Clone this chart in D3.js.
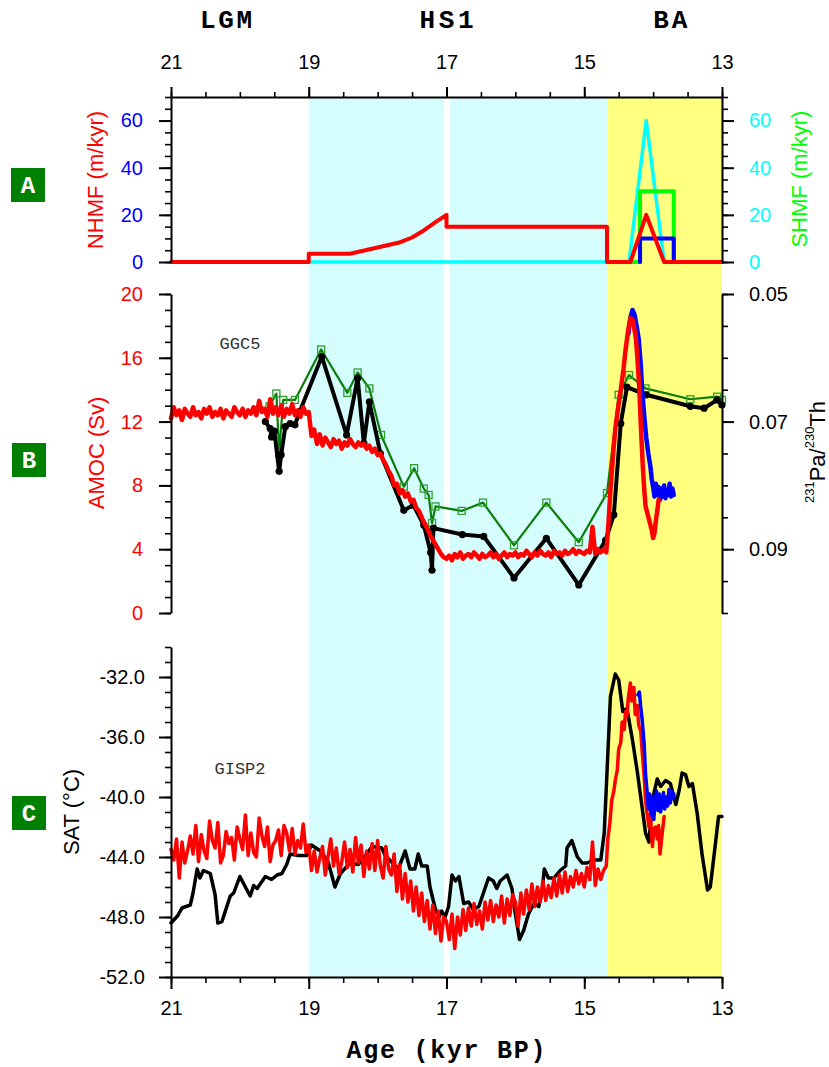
<!DOCTYPE html>
<html><head><meta charset="utf-8">
<script src="https://cdn.jsdelivr.net/npm/d3@7"></script>
<style>body{margin:0;background:#fff}svg{display:block}</style>
</head><body>
<svg id="c" width="829" height="1067"></svg>
<script>
// ---------------- DATA ----------------
const xTicks = [21, 19, 17, 15, 13];
const periodLabels = [["LGM", 20.2], ["HS1", 17.0], ["BA", 13.75]];
const bandsCyan = [[19.0, 17.04], [16.95, 14.66]];
const bandYellow = [14.66, 13.0];

// Panel A: meltwater fluxes (m/kyr)
const nhmfRed = [[21,0],[19,0],[19,3.5],[18.4,3.5],[17.67,8.4],[17.5,10.4],[17.33,13.4],[17.16,16.9],[17.0,20],[17.0,15],[14.67,15],[14.67,0],[14.33,0],[14.1,20],[13.84,0],[13,0]];
const shmfCyan = [[19,0],[14.35,0],[14.1,60],[13.84,0],[13,0]];
const shmfGreen = [[14.66,0],[14.19,0],[14.19,30],[13.7,30],[13.7,0],[13,0]];
const nhmfBlue = [[14.19,0],[14.19,10],[13.7,10],[13.7,0]];
const aTicks = [0, 20, 40, 60];

// Panel B: Pa/Th (GGC5) and AMOC (Sv)
const paThBlack = [[19.63,0.0700],[19.56,0.0711],[19.54,0.0724],[19.50,0.0715],[19.43,0.0778],[19.40,0.0752],[19.34,0.0708],[19.27,0.0703],[19.20,0.0705],[19.13,0.0684],[18.81,0.0598],[18.45,0.0721],[18.29,0.0632],[18.20,0.0734],[18.12,0.0669],[17.96,0.0750],[17.62,0.0839],[17.48,0.0831],[17.33,0.0862],[17.23,0.0905],[17.21,0.0933],[17.19,0.0867],[16.77,0.0877],[16.46,0.0880],[16.02,0.0945],[15.55,0.0883],[15.08,0.0956],[14.69,0.0886],[14.57,0.0846],[14.47,0.0703],[14.38,0.0646],[14.10,0.0658],[13.46,0.0676],[13.26,0.0679],[13.07,0.0666],[13.00,0.0674]];
const paThGreen = [[19.57,0.0676],[19.47,0.0656],[19.43,0.0750],[19.37,0.0666],[19.20,0.0666],[18.82,0.0587],[18.44,0.0655],[18.29,0.0623],[18.12,0.0648],[17.95,0.0721],[17.62,0.0802],[17.47,0.0773],[17.33,0.0805],[17.26,0.0815],[17.21,0.0859],[17.16,0.0833],[16.78,0.0840],[16.47,0.0827],[16.02,0.0894],[15.55,0.0827],[15.08,0.0889],[14.67,0.0812],[14.50,0.0658],[14.35,0.0627],[14.11,0.0648],[13.46,0.0665],[13.07,0.0661],[13.00,0.0666]];
// model AMOC sampled every 0.04 kyr from 21.0 kyr
const amocStart = 21.0, amocStep = 0.04;
const amocRed = [
12.2,12.9,12.4,12.7,12.1,12.8,12.5,12.3,12.9,12.4,
12.6,12.2,12.8,12.5,12.9,12.3,12.6,12.4,12.8,12.2,
12.7,12.5,12.3,12.9,12.6,12.4,12.8,12.3,12.7,12.5,
12.9,12.4,13.3,12.6,12.8,12.3,13.4,12.5,12.9,12.4,
13.0,12.3,12.8,12.5,13.1,12.4,12.7,12.3,12.9,12.5,
12.6,11.1,11.5,10.6,11.2,10.5,11.0,10.7,10.4,10.9,
10.6,10.8,10.3,10.7,10.5,10.9,10.6,10.4,10.7,10.5,
10.6,10.3,10.5,10.1,10.3,9.9,10.0,9.6,9.3,8.9,
8.6,8.0,8.1,7.5,7.7,7.3,7.5,7.0,7.1,6.6,
6.4,6.0,5.6,5.3,4.9,4.6,4.3,4.0,3.7,3.5,
3.4,3.6,3.3,3.7,3.5,3.8,3.4,3.6,3.7,3.5,
3.8,3.6,3.4,3.7,3.5,3.6,3.8,3.5,3.7,3.4,
3.6,3.8,3.5,3.7,3.6,
3.8,3.5,3.7,3.6,3.9,3.7,3.5,3.8,3.6,3.9,
3.7,3.6,3.8,3.5,3.9,3.7,3.8,3.6,3.9,3.7,
3.8,4.0,3.7,3.9,3.8,
3.7,3.9,3.8,5.4,3.7,4.0,3.8,4.0];
const amocRedBA = [[14.68,3.8],[14.65,5.5],[14.62,7.7],[14.58,10.0],[14.55,11.5],[14.51,12.8],[14.47,14.0],[14.43,15.3],[14.40,16.5],[14.36,17.8],[14.33,18.5],[14.30,18.4],[14.28,18.0],[14.25,17.2],[14.23,16.1],[14.20,14.0],[14.18,11.9],[14.15,9.2],[14.13,7.8],[14.11,6.7],[14.08,6.2],[14.05,5.7],[14.02,5.2],[14.00,4.7],[13.98,5.0],[13.96,5.8],[13.94,6.4],[13.92,7.1]];
const amocBlue = [[14.36,17.5],[14.33,18.5],[14.30,19.0],[14.27,18.7],[14.24,18.0],[14.21,17.2],[14.18,15.6],[14.16,14.0],[14.13,12.4],[14.10,11.0],[14.07,10.0],[14.04,9.2],[14.02,8.4],[14.00,7.9],[13.98,7.3],[13.96,8.1],[13.94,7.4],[13.92,7.9],[13.90,7.1],[13.88,7.8],[13.86,7.3],[13.84,8.0],[13.82,7.2],[13.80,7.7],[13.78,7.4],[13.76,8.1],[13.74,7.3],[13.72,7.8],[13.70,7.4]];
const bLeftTicks = [0, 4, 8, 12, 16, 20];
const bRightTicks = [0.05, 0.07, 0.09];

// Panel C: SAT (deg C)
const satBlack = [[21.0,-48.4],[20.9,-47.9],[20.84,-47.4],[20.78,-47.3],[20.72,-47.2],[20.68,-46.4],[20.62,-44.8],[20.58,-45.4],[20.53,-44.9],[20.43,-45.1],[20.36,-46.5],[20.32,-48.4],[20.26,-48.3],[20.14,-46.6],[20.09,-46.4],[20.0,-45.3],[19.92,-46.0],[19.85,-46.6],[19.8,-45.9],[19.75,-46.1],[19.63,-45.3],[19.54,-45.5],[19.46,-45.2],[19.39,-45.1],[19.32,-44.5],[19.27,-43.8],[19.15,-43.9],[19.03,-43.9],[18.96,-43.2],[18.83,-43.6],[18.72,-44.3],[18.62,-46.0],[18.54,-45.1],[18.4,-44.4],[18.28,-44.5],[18.16,-43.8],[18.08,-43.3],[17.94,-43.4],[17.89,-43.9],[17.7,-44.8],[17.6,-43.6],[17.53,-44.8],[17.46,-44.8],[17.41,-43.8],[17.36,-44.6],[17.28,-44.6],[17.24,-46.0],[17.16,-47.5],[17.11,-48.0],[17.07,-47.6],[17.02,-48.0],[16.97,-47.3],[16.92,-45.2],[16.87,-45.6],[16.82,-45.3],[16.75,-47.1],[16.68,-47.0],[16.61,-47.5],[16.53,-47.3],[16.39,-45.4],[16.32,-45.6],[16.27,-46.1],[16.22,-45.6],[16.12,-45.2],[16.05,-46.1],[16.0,-47.8],[15.94,-49.5],[15.88,-48.9],[15.81,-47.8],[15.73,-47.1],[15.66,-47.3],[15.61,-46.2],[15.58,-44.8],[15.52,-45.4],[15.44,-45.4],[15.35,-44.9],[15.27,-44.6],[15.25,-43.4],[15.18,-42.9],[15.1,-44.0],[15.03,-44.4],[14.96,-44.4],[14.86,-44.2],[14.76,-44.2],[14.71,-42.4],[14.67,-38.4],[14.62,-33.3],[14.55,-31.8],[14.5,-32.2],[14.44,-34.3],[14.38,-34.1],[14.3,-36.2],[14.23,-38.3],[14.18,-40.0],[14.11,-42.4],[14.06,-43.0],[14.01,-40.2],[13.94,-38.8],[13.89,-39.3],[13.82,-38.9],[13.75,-39.1],[13.67,-40.5],[13.62,-39.5],[13.58,-38.4],[13.53,-38.5],[13.48,-39.3],[13.43,-39.1],[13.36,-41.1],[13.29,-43.8],[13.21,-46.2],[13.17,-46.0],[13.09,-42.9],[13.05,-41.3],[13.0,-41.3]];
// model SAT sampled every 0.04 kyr from 21.0 kyr
const satStart = 21.0, satStep = 0.04;
const satRed = [
-43.5,-44.2,-42.8,-45.4,-43.0,-44.4,-43.6,-42.6,-43.8,-41.9,
-44.3,-42.5,-43.6,-44.1,-41.6,-42.9,-43.4,-41.7,-44.4,-43.9,
-42.3,-43.1,-42.7,-44.2,-42.0,-42.8,-43.5,-41.2,-43.9,-42.4,
-43.7,-44.0,-41.4,-42.6,-43.3,-42.0,-44.3,-43.2,-42.9,-42.2,
-43.9,-41.9,-42.4,-43.6,-42.1,-43.8,-42.9,-43.4,-41.8,-43.7,
-43.2,-44.9,-43.6,-45.0,-44.1,-43.3,-45.2,-44.0,-42.8,-44.6,
-43.4,-45.1,-44.3,-43.0,-44.7,-43.5,-45.0,-42.7,-44.4,-43.2,
-45.3,-43.6,-44.8,-43.1,-44.9,-42.9,-44.6,-45.4,-43.3,-44.8,
-45.2,-43.8,-46.3,-44.5,-46.8,-45.1,-47.0,-45.6,-47.6,-46.0,
-47.9,-46.4,-48.3,-46.9,-48.8,-47.2,-49.1,-47.6,-49.6,-48.0,
-48.3,-49.5,-47.8,-50.1,-48.0,-49.2,-47.5,-48.9,-47.4,-48.6,
-47.1,-48.5,-47.6,-48.8,-47.0,-48.2,-46.9,-48.3,-47.2,-48.0,
-46.6,-48.4,-46.8,-47.9,-46.5,
-47.0,-48.6,-46.4,-47.8,-46.2,-47.5,-45.8,-47.3,-46.0,-47.0,
-45.6,-46.9,-45.9,-46.7,-45.4,-46.6,-45.2,-46.4,-45.0,-46.3,
-45.3,-46.0,-44.9,-45.8,-45.1,
-46.0,-44.7,-45.5,-43.0,-45.9,-44.8,-45.5,-44.9];
const satRedBA = [[14.68,-44.6],[14.66,-42.9],[14.63,-41.8],[14.60,-40.2],[14.57,-39.6],[14.55,-38.9],[14.52,-38.2],[14.50,-36.8],[14.47,-36.4],[14.45,-35.0],[14.42,-35.5],[14.40,-34.3],[14.38,-34.6],[14.36,-33.4],[14.33,-32.4],[14.31,-33.6],[14.28,-32.7],[14.26,-34.5],[14.23,-33.9],[14.21,-35.2],[14.18,-35.6],[14.16,-36.9],[14.13,-38.6],[14.11,-40.2],[14.09,-41.0],[14.06,-42.0],[14.04,-41.3],[14.01,-43.3],[13.99,-42.1],[13.96,-42.0],[13.94,-42.8],[13.92,-41.9],[13.90,-43.8],[13.87,-42.5],[13.84,-41.3]];
const satBlue = [[14.22,-33.2],[14.20,-33.0],[14.18,-34.0],[14.16,-34.8],[14.13,-36.5],[14.11,-38.5],[14.09,-39.5],[14.07,-40.8],[14.05,-39.8],[14.03,-41.2],[14.01,-40.0],[13.99,-41.5],[13.97,-40.2],[13.95,-39.6],[13.93,-40.9],[13.91,-39.8],[13.89,-41.0],[13.87,-40.3],[13.85,-39.7],[13.83,-40.8],[13.81,-40.0],[13.79,-40.6],[13.77,-39.5],[13.75,-40.4],[13.73,-39.6],[13.71,-40.1],[13.70,-39.8]];
const cTicks = [-52, -48, -44, -40, -36, -32];

// ---------------- DRAW ----------------
const svg = d3.select('#c');
const SANS = '"Liberation Sans", Arial, Helvetica, sans-serif';
const MONO = '"Liberation Mono", "DejaVu Sans Mono", monospace';

const x = d3.scaleLinear().domain([21, 13]).range([171, 722]);
const yA = d3.scaleLinear().domain([0, 70]).range([262, 97]);
const yB = d3.scaleLinear().domain([0, 20]).range([613, 294]);
const yBr = d3.scaleLinear().domain([0.05, 0.10]).range([294, 613]);
const yC = d3.scaleLinear().domain([-52, -30]).range([977, 647]);

// background bands
const bandTop = 97, bandBot = 977;
bandsCyan.forEach(b => svg.append('rect').attr('x', x(b[0])).attr('y', bandTop)
  .attr('width', x(b[1]) - x(b[0])).attr('height', bandBot - bandTop).attr('fill', '#d6fdfd'));
svg.append('rect').attr('x', x(bandYellow[0])).attr('y', bandTop)
  .attr('width', x(bandYellow[1]) - x(bandYellow[0])).attr('height', bandBot - bandTop).attr('fill', '#ffff80');

function line(data, ys, color, w) {
  svg.append('path').datum(data)
    .attr('d', d3.line().x(d => x(d[0])).y(d => ys(d[1])))
    .attr('fill', 'none').attr('stroke', color).attr('stroke-width', w)
    .attr('stroke-linejoin', 'round').attr('stroke-linecap', 'round');
}
const sampled = (start, step, vals) => vals.map((v, i) => [start - i * step, v]);

// Panel A lines
line(shmfCyan, yA, '#00ffff', 3.5);
line(shmfGreen, yA, '#00ff00', 4);
line(nhmfBlue, yA, '#0000ff', 4);
line(nhmfRed, yA, '#ff0000', 4);

// Panel B
line(paThGreen, yBr, '#0a7d0a', 2.2);
svg.append('g').selectAll('rect').data(paThGreen).join('rect')
  .attr('x', d => x(d[0]) - 3.5).attr('y', d => yBr(d[1]) - 3.5)
  .attr('width', 7).attr('height', 7).attr('fill', 'none')
  .attr('stroke', '#2ea02e').attr('stroke-width', 1.3);
line(paThBlack, yBr, '#000', 4);
svg.append('g').selectAll('circle').data(paThBlack).join('circle')
  .attr('cx', d => x(d[0])).attr('cy', d => yBr(d[1])).attr('r', 3.6).attr('fill', '#000');
line(amocBlue, yB, '#0000ff', 4.5);
line(sampled(amocStart, amocStep, amocRed).concat(amocRedBA), yB, '#ff0000', 4.5);

// Panel C
line(satBlack, yC, '#000', 3.5);
line(sampled(satStart, satStep, satRed).concat(satRedBA), yC, '#ff0000', 3.5);
line(satBlue, yC, '#0000ff', 3.5);

// axes helper
function axis(gen, tx, ty, color, minorGen) {
  const g = svg.append('g').attr('transform', `translate(${tx},${ty})`).call(gen);
  g.selectAll('path.domain').attr('stroke', '#000').attr('stroke-width', 2);
  g.selectAll('.tick line').attr('stroke', '#000').attr('stroke-width', 2);
  g.selectAll('text').attr('fill', color).style('font-family', SANS).style('font-size', '20px');
  if (minorGen) {
    const m = svg.append('g').attr('transform', `translate(${tx},${ty})`).call(minorGen);
    m.select('path.domain').remove();
    m.selectAll('.tick line').attr('stroke', '#000').attr('stroke-width', 1.6);
  }
  return g;
}
const xMinor = d3.range(21, 12.99, -0.5);
const fmt1 = d => d.toFixed(1);
const fmt2 = d => d.toFixed(2);

// top axis (panel A)
axis(d3.axisTop(x).tickValues(xTicks).tickSize(10).tickSizeOuter(0).tickPadding(18).tickFormat(d3.format('d')),
  0, 97, '#000', d3.axisTop(x).tickValues(xMinor).tickSize(5).tickSizeOuter(0).tickFormat(''));
// panel A left / right
axis(d3.axisLeft(yA).tickValues(aTicks).tickSize(12).tickSizeOuter(0).tickPadding(16),
  171, 0, '#0000ff', d3.axisLeft(yA).tickValues(d3.range(0, 71, 5)).tickSize(6).tickSizeOuter(0).tickFormat(''));
axis(d3.axisRight(yA).tickValues(aTicks).tickSize(12).tickSizeOuter(0).tickPadding(15),
  722, 0, '#00ffff', d3.axisRight(yA).tickValues(d3.range(0, 71, 5)).tickSize(6).tickSizeOuter(0).tickFormat(''));
// panel B left / right
axis(d3.axisLeft(yB).tickValues(bLeftTicks).tickSize(12).tickSizeOuter(0).tickPadding(16),
  171, 0, '#ff0000', d3.axisLeft(yB).tickValues(d3.range(0, 20.5, 1)).tickSize(6).tickSizeOuter(0).tickFormat(''));
axis(d3.axisRight(yBr).tickValues(bRightTicks).tickSize(12).tickSizeOuter(0).tickPadding(15).tickFormat(fmt2),
  722, 0, '#000', d3.axisRight(yBr).tickValues(d3.range(0.05, 0.1001, 0.005)).tickSize(6).tickSizeOuter(0).tickFormat(''));
// panel C left / bottom
axis(d3.axisLeft(yC).tickValues(cTicks).tickSize(12).tickSizeOuter(0).tickPadding(14).tickFormat(fmt1),
  171, 0, '#000', d3.axisLeft(yC).tickValues(d3.range(-52, -29.5, 1)).tickSize(6).tickSizeOuter(0).tickFormat(''));
axis(d3.axisBottom(x).tickValues(xTicks).tickSize(12).tickSizeOuter(0).tickPadding(12).tickFormat(d3.format('d')),
  0, 977, '#000', d3.axisBottom(x).tickValues(xMinor).tickSize(6).tickSizeOuter(0).tickFormat(''));

// period labels
const widths = {LGM: 52, HS1: 54, BA: 34};
periodLabels.forEach(([t, a]) => {
  svg.append('text').attr('x', x(a)).attr('y', 28).attr('text-anchor', 'middle')
    .attr('textLength', widths[t]).attr('lengthAdjust', 'spacing')
    .style('font-family', MONO).style('font-weight', 'bold').style('font-size', '26px').text(t);
});
svg.append('text').attr('x', 446).attr('y', 1058).attr('text-anchor', 'middle')
  .attr('textLength', 199).attr('lengthAdjust', 'spacing')
  .style('font-family', MONO).style('font-weight', 'bold').style('font-size', '25px').text('Age (kyr BP)');

// axis titles
function vtitle(txt, cx, cy, color) {
  return svg.append('text').attr('transform', `translate(${cx},${cy}) rotate(-90)`)
    .attr('text-anchor', 'middle').attr('dominant-baseline', 'central')
    .attr('fill', color).style('font-family', SANS).style('font-size', '22px').text(txt);
}
vtitle('NHMF (m/kyr)', 95, 180, '#ff0000');
vtitle('SHMF (m/kyr)', 799, 179, '#00ff00');
vtitle('AMOC (Sv)', 96, 453, '#ff0000');
vtitle('SAT (°C)', 71, 812, '#000');
const pt = svg.append('text').attr('transform', 'translate(817,452) rotate(-90)')
  .attr('text-anchor', 'middle').attr('dominant-baseline', 'central')
  .style('font-family', SANS).style('font-size', '22px');
pt.append('tspan').attr('font-size', '13px').attr('dy', '-8').text('231');
pt.append('tspan').attr('dy', '8').text('Pa/');
pt.append('tspan').attr('font-size', '13px').attr('dy', '-8').text('230');
pt.append('tspan').attr('dy', '8').text('Th');

// core labels
svg.append('text').attr('x', 240).attr('y', 349).attr('text-anchor', 'middle').attr('fill', '#333')
  .style('font-family', MONO).style('font-size', '17px').text('GGC5');
svg.append('text').attr('x', 240).attr('y', 774).attr('text-anchor', 'middle').attr('fill', '#333')
  .style('font-family', MONO).style('font-size', '17px').text('GISP2');

// panel letters
[['A', 11, 168], ['B', 12, 443], ['C', 12, 796]].forEach(([t, bx, by]) => {
  svg.append('rect').attr('x', bx).attr('y', by).attr('width', 34).attr('height', 34).attr('fill', '#008000');
  svg.append('text').attr('x', bx + 17).attr('y', by + 18).attr('text-anchor', 'middle')
    .attr('dominant-baseline', 'central').attr('fill', '#fff')
    .style('font-family', MONO).style('font-weight', 'bold').style('font-size', '24px').text(t);
});
</script>
</body></html>
